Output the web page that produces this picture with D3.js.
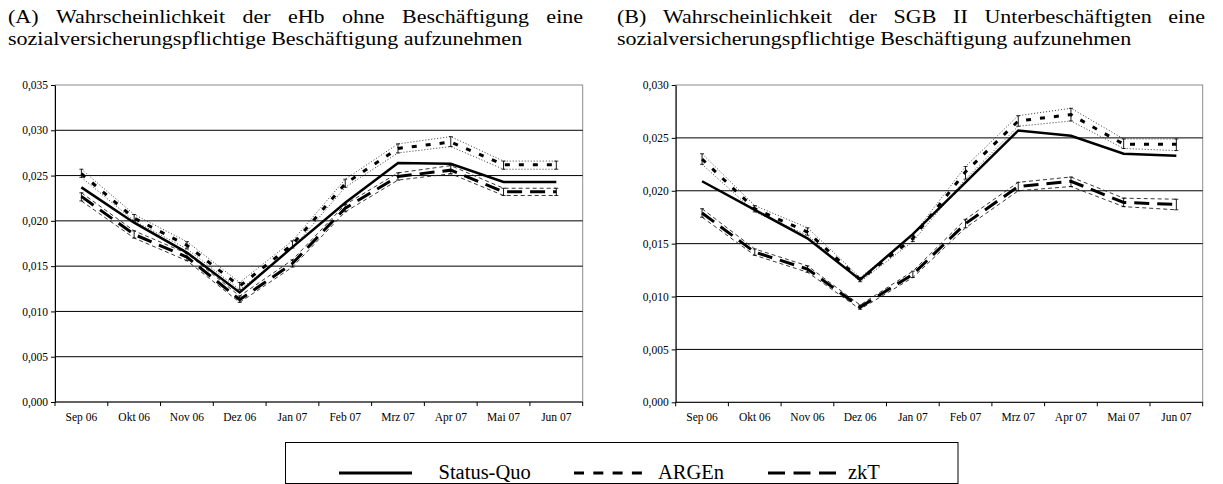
<!DOCTYPE html>
<html>
<head>
<meta charset="utf-8">
<script src="https://cdn.jsdelivr.net/npm/d3@7"></script>
<style>
  html, body { margin: 0; padding: 0; background: #fff; }
  svg { display: block; }
  text { font-family: "Liberation Serif", "Times New Roman", "DejaVu Serif", serif; fill: #000; }
</style>
</head>
<body>
<svg id="chart" width="1223" height="484"></svg>
<script>
// Monthly categories shared by both panels
const months = ["Sep 06", "Okt 06", "Nov 06", "Dez 06", "Jan 07", "Feb 07", "Mrz 07", "Apr 07", "Mai 07", "Jun 07"];

// Panel A: eHb ohne Beschäftigung
const statusA  = [0.0237, 0.0198, 0.0165, 0.0121, 0.0171, 0.0220, 0.0264, 0.0263, 0.0243, 0.0243];
const argenA   = [0.0252, 0.0203, 0.0173, 0.0128, 0.0174, 0.0241, 0.0280, 0.0287, 0.0262, 0.0262];
const argenALo = [0.0248, 0.0200, 0.0169, 0.0124, 0.0170, 0.0237, 0.0275, 0.0282, 0.0257, 0.0257];
const argenAHi = [0.0257, 0.0207, 0.0177, 0.0132, 0.0178, 0.0246, 0.0285, 0.0293, 0.0266, 0.0266];
const zktA     = [0.0227, 0.0185, 0.0160, 0.0113, 0.0153, 0.0214, 0.0249, 0.0256, 0.0232, 0.0232];
const zktALo   = [0.0222, 0.0181, 0.0156, 0.0110, 0.0149, 0.0210, 0.0245, 0.0252, 0.0228, 0.0228];
const zktAHi   = [0.0231, 0.0189, 0.0164, 0.0117, 0.0157, 0.0218, 0.0253, 0.0261, 0.0236, 0.0236];
const yTicksA  = [0, 0.005, 0.010, 0.015, 0.020, 0.025, 0.030, 0.035];

// Panel B: SGB II Unterbeschäftigte
const statusB  = [0.0209, 0.0182, 0.0155, 0.0116, 0.0159, 0.0208, 0.0257, 0.0252, 0.0235, 0.0233];
const argenB   = [0.0230, 0.0183, 0.0161, 0.0116, 0.0155, 0.0218, 0.0266, 0.0272, 0.0244, 0.0244];
const argenBLo = [0.0225, 0.0180, 0.0158, 0.0114, 0.0152, 0.0211, 0.0261, 0.0266, 0.0240, 0.0238];
const argenBHi = [0.0235, 0.0186, 0.0165, 0.0118, 0.0158, 0.0223, 0.0271, 0.0278, 0.0249, 0.0249];
const zktB     = [0.0179, 0.0142, 0.0126, 0.0090, 0.0121, 0.0169, 0.0204, 0.0209, 0.0189, 0.0187];
const zktBLo   = [0.0175, 0.0139, 0.0123, 0.0088, 0.0118, 0.0165, 0.0200, 0.0204, 0.0185, 0.0182];
const zktBHi   = [0.0183, 0.0145, 0.0129, 0.0092, 0.0124, 0.0173, 0.0208, 0.0213, 0.0193, 0.0192];
const yTicksB  = [0, 0.005, 0.010, 0.015, 0.020, 0.025, 0.030];

const titleA = ["(A) Wahrscheinlichkeit der eHb ohne Beschäftigung eine",
                "sozialversicherungspflichtige Beschäftigung aufzunehmen"];
const titleB = ["(B) Wahrscheinlichkeit der SGB II Unterbeschäftigten eine",
                "sozialversicherungspflichtige Beschäftigung aufzunehmen"];

const legendLabels = ["Status-Quo", "ARGEn", "zkT"];

const svg = d3.select("#chart");
const deFormat = d3.formatLocale({ decimal: ",", thousands: ".", grouping: [3], currency: ["", " €"] }).format(".3f");

// Title text is set slightly condensed in height
const TITLE_SIZE = 22, TITLE_SY = 0.87;

// Spread the words of a line so that it fills [x0, x1]
function justifiedLine(x0, x1, y, text) {
  const t = svg.append("g").attr("transform", `translate(${x0},${y}) scale(1,${TITLE_SY})`)
    .append("text").attr("y", 0).style("font-size", TITLE_SIZE + "px");
  const words = text.split(" ");
  const spans = words.map(w => t.append("tspan").text(w));
  const widths = spans.map(s => s.node().getComputedTextLength());
  const gap = (x1 - x0 - d3.sum(widths)) / (words.length - 1);
  let x = 0;
  spans.forEach((s, i) => { s.attr("x", x); x += widths[i] + gap; });
}

function plainLine(x0, y, text) {
  svg.append("g").attr("transform", `translate(${x0},${y}) scale(1,${TITLE_SY})`)
    .append("text").attr("x", 0).attr("y", 0).style("font-size", TITLE_SIZE + "px").text(text);
}

function drawPanel(cfg) {
  const g = svg.append("g");
  const x = d3.scaleBand().domain(months).range([cfg.left, cfg.right]).paddingInner(0).paddingOuter(0);
  const y = d3.scaleLinear().domain([0, cfg.max]).range([cfg.bottom, cfg.top]);
  const cx = m => x(m) + x.bandwidth() / 2;

  // plot frame (top/right in grey)
  g.append("rect")
    .attr("x", cfg.left).attr("y", cfg.top)
    .attr("width", cfg.right - cfg.left).attr("height", cfg.bottom - cfg.top)
    .attr("fill", "none").attr("stroke", "#8c8c8c").attr("stroke-width", 1);

  // horizontal gridlines
  g.selectAll("line.grid")
    .data(cfg.ticks.filter(v => v > 0 && v < cfg.max))
    .join("line")
    .attr("class", "grid")
    .attr("x1", cfg.left).attr("x2", cfg.right)
    .attr("y1", d => y(d)).attr("y2", d => y(d))
    .attr("stroke", "#000").attr("stroke-width", 1);

  // y axis
  const yAxis = d3.axisLeft(y).tickValues(cfg.ticks).tickFormat(deFormat).tickSize(4).tickSizeOuter(0).tickPadding(3);
  const ya = g.append("g").attr("transform", `translate(${cfg.left},0)`).call(yAxis);
  ya.attr("font-family", null);
  ya.select(".domain").attr("stroke", "#000");
  ya.selectAll(".tick line").attr("stroke", "#000");
  ya.selectAll(".tick text").style("font-size", "11.5px");

  // x axis: labels centred on months, tick marks on month boundaries
  const xAxis = d3.axisBottom(x).tickSize(0).tickPadding(11);
  const xa = g.append("g").attr("transform", `translate(0,${cfg.bottom})`).call(xAxis);
  xa.attr("font-family", null);
  xa.select(".domain").remove();
  xa.selectAll(".tick text").style("font-size", "11.5px");
  const edges = months.map(m => x(m)).concat([cfg.right]);
  g.append("line").attr("x1", cfg.left).attr("x2", cfg.right)
    .attr("y1", cfg.bottom).attr("y2", cfg.bottom).attr("stroke", "#000");
  g.selectAll("line.xtick").data(edges).join("line")
    .attr("class", "xtick")
    .attr("x1", d => d).attr("x2", d => d)
    .attr("y1", cfg.bottom).attr("y2", cfg.bottom + 4)
    .attr("stroke", "#000");

  const line = vals => d3.line().x((d, i) => cx(months[i])).y(d => y(d))(vals);

  // confidence bounds
  [[cfg.argenLo, "1,2"], [cfg.argenHi, "1,2"], [cfg.zktLo, "4,3"], [cfg.zktHi, "4,3"]].forEach(([vals, dash]) => {
    g.append("path").attr("d", line(vals)).attr("fill", "none")
      .attr("stroke", "#222").attr("stroke-width", 0.9).attr("stroke-dasharray", dash);
  });

  // error bars
  [[cfg.argenLo, cfg.argenHi], [cfg.zktLo, cfg.zktHi]].forEach(([lo, hi]) => {
    const eb = g.append("g");
    months.forEach((m, i) => {
      const xx = cx(m);
      eb.append("line").attr("x1", xx).attr("x2", xx).attr("y1", y(lo[i])).attr("y2", y(hi[i]))
        .attr("stroke", "#000").attr("stroke-width", 0.9);
      [lo[i], hi[i]].forEach(v => {
        eb.append("line").attr("x1", xx - 2).attr("x2", xx + 2).attr("y1", y(v)).attr("y2", y(v))
          .attr("stroke", "#000").attr("stroke-width", 0.8);
      });
    });
  });

  // main series
  g.append("path").attr("d", line(cfg.zkt)).attr("fill", "none")
    .attr("stroke", "#000").attr("stroke-width", 3).attr("stroke-dasharray", "15,8");
  g.append("path").attr("d", line(cfg.argen)).attr("fill", "none")
    .attr("stroke", "#000").attr("stroke-width", 3).attr("stroke-dasharray", "5,9");
  g.append("path").attr("d", line(cfg.status)).attr("fill", "none")
    .attr("stroke", "#000").attr("stroke-width", 2.5);
}

drawPanel({
  left: 55, right: 582.7, top: 85, bottom: 402, max: 0.035, ticks: yTicksA,
  status: statusA, argen: argenA, argenLo: argenALo, argenHi: argenAHi,
  zkt: zktA, zktLo: zktALo, zktHi: zktAHi
});
drawPanel({
  left: 675.7, right: 1202.7, top: 85, bottom: 402.3, max: 0.030, ticks: yTicksB,
  status: statusB, argen: argenB, argenLo: argenBLo, argenHi: argenBHi,
  zkt: zktB, zktLo: zktBLo, zktHi: zktBHi
});

// panel titles
justifiedLine(8, 583, 23, titleA[0]);
plainLine(8, 45, titleA[1]);
justifiedLine(617, 1205, 23, titleB[0]);
plainLine(617, 45, titleB[1]);

// legend
const lg = svg.append("g");
lg.append("rect").attr("x", 285.5).attr("y", 442.5).attr("width", 672.5).attr("height", 41)
  .attr("fill", "#fff").attr("stroke", "#000").attr("stroke-width", 1);
const legendItems = [
  { label: legendLabels[0], x1: 339, x2: 412, tx: 438.5, dash: null },
  { label: legendLabels[1], x1: 574, x2: 642, tx: 658, dash: "10,9.3" },
  { label: legendLabels[2], x1: 768, x2: 836, tx: 848, dash: "17,8.5" }
];
legendItems.forEach(it => {
  const l = lg.append("line").attr("x1", it.x1).attr("x2", it.x2).attr("y1", 473).attr("y2", 473)
    .attr("stroke", "#000").attr("stroke-width", 3.2);
  if (it.dash) l.attr("stroke-dasharray", it.dash);
  lg.append("text").attr("x", it.tx).attr("y", 478.5).style("font-size", "20.5px").text(it.label);
});
</script>
</body>
</html>
